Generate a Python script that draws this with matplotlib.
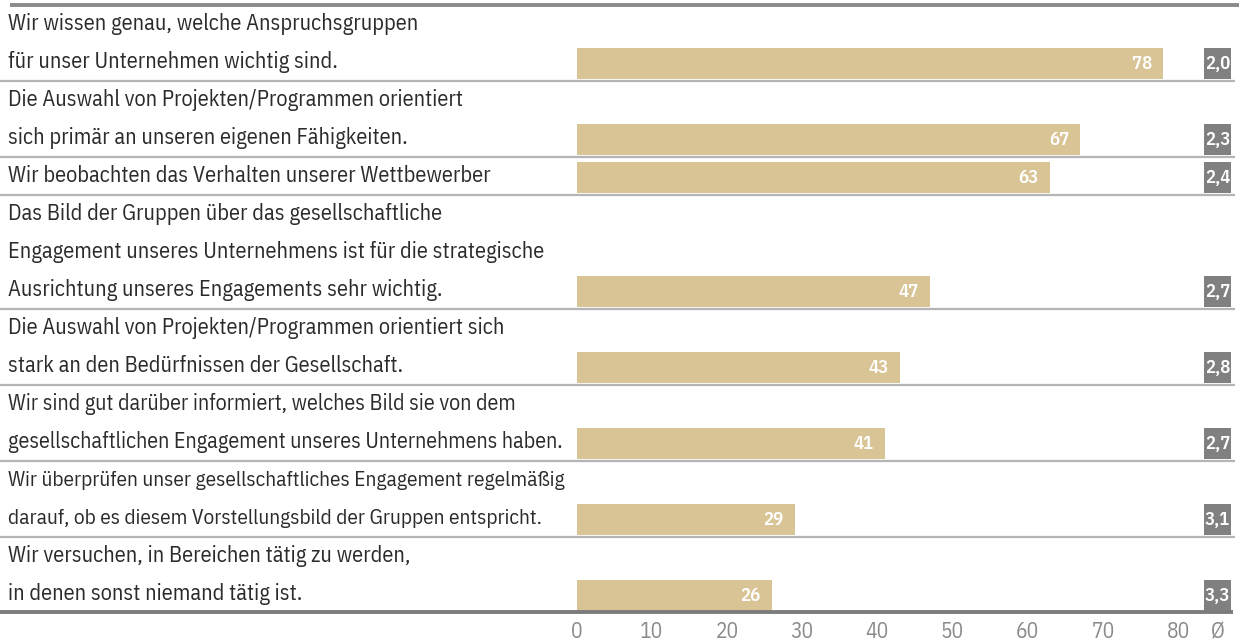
import matplotlib.pyplot as plt
import matplotlib.transforms as mtransforms

# statements (row labels), share of agreement in % and mean rating
labels = [
    "Wir wissen genau, welche Anspruchsgruppen\nfür unser Unternehmen wichtig sind.",
    "Die Auswahl von Projekten/Programmen orientiert\nsich primär an unseren eigenen Fähigkeiten.",
    "Wir beobachten das Verhalten unserer Wettbewerber",
    "Das Bild der Gruppen über das gesellschaftliche\nEngagement unseres Unternehmens ist für die strategische\nAusrichtung unseres Engagements sehr wichtig.",
    "Die Auswahl von Projekten/Programmen orientiert sich\nstark an den Bedürfnissen der Gesellschaft.",
    "Wir sind gut darüber informiert, welches Bild sie von dem\ngesellschaftlichen Engagement unseres Unternehmens haben.",
    "Wir überprüfen unser gesellschaftliches Engagement regelmäßig\ndarauf, ob es diesem Vorstellungsbild der Gruppen entspricht.",
    "Wir versuchen, in Bereichen tätig zu werden,\nin denen sonst niemand tätig ist.",
]
values = [78, 67, 63, 47, 43, 41, 29, 26]
means = ["2,0", "2,3", "2,4", "2,7", "2,8", "2,7", "3,1", "3,3"]
ticks = [0, 10, 20, 30, 40, 50, 60, 70, 80]

FONT = ["IBM Plex Sans Condensed", "DejaVu Sans"]
BAR = "#d9c496"
BOX = "#808080"
TXT = "#2b2b2b"

W, H = 1239, 641
fig = plt.figure(figsize=(W / 100, H / 100), dpi=100)
# axes spans the full width; y runs in "text line" units (38 px per line)
ax = fig.add_axes([0, (H - 613) / H, 1, 608 / H])
px = 7.52  # pixels per percent
x0 = 576.5  # pixel position of 0 %
ax.set_xlim(-x0 / px, (W - x0) / px)
n_lines = sum(l.count("\n") + 1 for l in labels)
ax.set_ylim(n_lines, 0)

trans = mtransforms.blended_transform_factory(ax.transAxes, ax.transData)
renderer = fig.canvas.get_renderer()

mean_pos = 85.25  # x position of the Ø column
top = 0
for lab, v, m in zip(labels, values, means):
    lines = lab.split("\n")
    # label lines; the longest one is squeezed so it stays left of the bars
    row_texts = [ax.text(8 / W, top + i + 0.5, line, transform=trans, ha="left",
                         va="center", fontsize=16, color=TXT, family=FONT)
                 for i, line in enumerate(lines)]
    widest = max(t.get_window_extent(renderer).width for t in row_texts)
    if widest > 560:
        for t in row_texts:
            t.set_fontsize(16 * 560 / widest)
    bottom = top + len(lines)
    yc = bottom - 0.46
    ax.barh(yc, v, height=0.8, left=0, color=BAR)
    ax.text(v - 1.5, yc, str(v), ha="right", va="center", fontsize=13.5,
            color="white", fontweight="semibold", family=FONT)
    ax.barh(yc, 3.7, height=0.8, left=mean_pos - 1.85, color=BOX)
    ax.text(mean_pos, yc, m, ha="center", va="center", fontsize=13.5,
            color="white", fontweight="semibold", family=FONT)
    if bottom < n_lines:
        ax.plot([0, 1235 / W], [bottom, bottom], transform=trans,
                color="#b5b5b5", lw=1.6, solid_capstyle="butt")
    top = bottom

# heavy top and bottom rules
ax.plot([10 / W, 1], [0, 0], transform=trans, color="#8a8a8a", lw=2.8,
        solid_capstyle="butt", clip_on=False)
ax.plot([0, 1233 / W], [n_lines - 0.03, n_lines - 0.03], transform=trans,
        color="#7c7c7c", lw=2.8, solid_capstyle="butt", clip_on=False)

ax.set_xticks(ticks + [mean_pos], [str(t) for t in ticks] + ["Ø"])
ax.tick_params(axis="x", length=0, pad=6, labelsize=15.5, labelcolor="#8a8a8a")
for t in ax.get_xticklabels():
    t.set_family(FONT)
ax.set_yticks([])
for s in ax.spines.values():
    s.set_visible(False)

fig.savefig("out.png", dpi=100)
